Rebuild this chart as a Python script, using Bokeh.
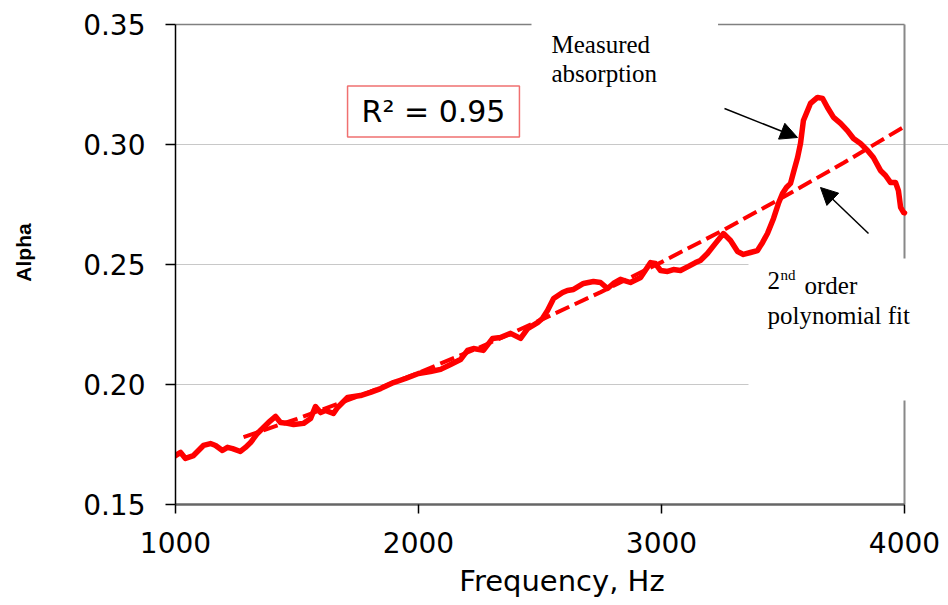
from bokeh.plotting import figure
from bokeh.models import (Range1d, FixedTicker, PrintfTickFormatter, Label,
                          Arrow, NormalHead)
from bokeh.embed import file_html
from bokeh.resources import INLINE

# Measured sound absorption coefficient versus frequency
freq_hz = [
    1000, 1021, 1041, 1074, 1115, 1144, 1165, 1193, 1214, 1235, 1267, 1288,
    1309, 1337, 1362, 1383, 1412, 1432, 1461, 1486, 1527, 1556, 1576, 1597,
    1617, 1650, 1667, 1708, 1761, 1802, 1844, 1897, 1947, 2000, 2049, 2091,
    2132, 2173, 2202, 2226, 2267, 2305, 2337, 2379, 2420, 2449, 2490, 2510,
    2531, 2556, 2593, 2613, 2638, 2679, 2720, 2749, 2778, 2802, 2831, 2872,
    2914, 2955, 2975, 2996, 3025, 3049, 3078, 3111, 3140, 3160, 3189, 3222,
    3255, 3284, 3313, 3337, 3366, 3395, 3416, 3436, 3461, 3481, 3498, 3514,
    3531, 3543, 3560, 3572, 3584, 3613, 3642, 3663, 3683, 3708, 3737, 3765,
    3790, 3819, 3848, 3872, 3901, 3922, 3942, 3963, 3975, 3984, 3996, 4000,
]
alpha_measured = [
    0.1704, 0.1717, 0.1692, 0.1704, 0.1746, 0.1754, 0.1746, 0.1725, 0.1738,
    0.1733, 0.1721, 0.1738, 0.1758, 0.1796, 0.1821, 0.1842, 0.1867, 0.1842,
    0.1838, 0.1833, 0.1838, 0.1858, 0.1908, 0.1883, 0.1892, 0.1879, 0.1904,
    0.1946, 0.1954, 0.1967, 0.1983, 0.2008, 0.2025, 0.2046, 0.2054, 0.2063,
    0.2083, 0.2104, 0.2142, 0.2150, 0.2142, 0.2192, 0.2196, 0.2213, 0.2192,
    0.2233, 0.2258, 0.2275, 0.2308, 0.2358, 0.2383, 0.2392, 0.2396, 0.2421,
    0.2429, 0.2425, 0.2400, 0.2421, 0.2438, 0.2425, 0.2446, 0.2508, 0.2504,
    0.2475, 0.2471, 0.2479, 0.2475, 0.2492, 0.2508, 0.2517, 0.2546, 0.2588,
    0.2629, 0.2600, 0.2554, 0.2542, 0.2550, 0.2558, 0.2592, 0.2629, 0.2692,
    0.2754, 0.2796, 0.2821, 0.2838, 0.2883, 0.2946, 0.3004, 0.3100, 0.3171,
    0.3196, 0.3192, 0.3154, 0.3113, 0.3088, 0.3058, 0.3025, 0.3004, 0.2975,
    0.2946, 0.2892, 0.2871, 0.2842, 0.2842, 0.2808, 0.2738, 0.2717, 0.2715,
]

# Second-order polynomial fit of the measured data
fit_freq_hz = [1280, 1500, 1750, 2000, 2250, 2500, 2750, 3000, 3250, 3500,
               3750, 4000]
alpha_fit = [0.1781, 0.1857, 0.1950, 0.2049, 0.2154, 0.2267, 0.2385, 0.2510,
             0.2641, 0.2780, 0.2924, 0.3075]
r_squared = 0.95

x_ticks = [1000, 2000, 3000, 4000]
y_ticks = [0.15, 0.20, 0.25, 0.30, 0.35]
x_lo, x_hi = x_ticks[0], x_ticks[-1]
y_lo, y_hi = y_ticks[0], y_ticks[-1]

SANS = "DejaVu Sans"
SERIF = "Liberation Serif"

# The drawing area reaches the right and top edges of the page so that the
# call-out boxes may overlap the chart border; axes and grid are bounded to
# the real data box.
HZ_PER_PX = (x_hi - x_lo) / 729
ALPHA_PER_PX = (y_hi - y_lo) / 480
p = figure(width=948, height=605,
           x_range=Range1d(x_lo, x_hi + 44 * HZ_PER_PX),
           y_range=Range1d(y_lo, y_hi + 24 * ALPHA_PER_PX),
           output_backend="svg", toolbar_location=None,
           min_border_left=175, min_border_right=0,
           min_border_top=0, min_border_bottom=101)

p.background_fill_color = "white"
p.border_fill_color = "white"
p.outline_line_color = None

# grid
p.xgrid.visible = False
p.ygrid.ticker = FixedTicker(ticks=y_ticks[1:-1])
p.ygrid.bounds = (x_lo, x_hi)
p.ygrid.grid_line_color = "#c8c8c8"
p.ygrid.grid_line_width = 1

# y axis
p.yaxis.bounds = (y_lo, y_hi)
p.yaxis.ticker = FixedTicker(ticks=y_ticks)
p.yaxis.formatter = PrintfTickFormatter(format="%.2f")
p.yaxis.major_label_text_font = SANS
p.yaxis.major_label_text_font_size = "28px"
p.yaxis.major_label_text_color = "black"
p.yaxis.major_label_standoff = 20
p.yaxis.major_tick_out = 10
p.yaxis.major_tick_in = 0
p.yaxis.minor_tick_line_color = None
p.yaxis.axis_line_color = "black"
p.yaxis.axis_line_width = 1.5
p.yaxis.major_tick_line_color = "black"
p.yaxis.major_tick_line_width = 1.5
p.yaxis.axis_label = "Alpha"
p.yaxis.axis_label_text_font = "Liberation Sans"
p.yaxis.axis_label_text_font_style = "bold"
p.yaxis.axis_label_text_font_size = "21px"
p.yaxis.axis_label_text_color = "black"
p.yaxis.axis_label_standoff = 45

# x axis
p.xaxis.bounds = (x_lo, x_hi)
p.xaxis.ticker = FixedTicker(ticks=x_ticks)
p.xaxis.formatter = PrintfTickFormatter(format="%d")
p.xaxis.major_label_text_font = SANS
p.xaxis.major_label_text_font_size = "28px"
p.xaxis.major_label_text_color = "black"
p.xaxis.major_label_standoff = 18
p.xaxis.major_tick_out = 9
p.xaxis.major_tick_in = 0
p.xaxis.minor_tick_line_color = None
p.xaxis.axis_line_color = "#666666"
p.xaxis.axis_line_width = 2.5
p.xaxis.major_tick_line_color = "black"
p.xaxis.major_tick_line_width = 1.5
p.xaxis.axis_label = "Frequency, Hz"
p.xaxis.axis_label_text_font = SANS
p.xaxis.axis_label_text_font_style = "normal"
p.xaxis.axis_label_text_font_size = "29px"
p.xaxis.axis_label_text_color = "black"
p.xaxis.axis_label_standoff = 8

# top and right border of the chart box
p.segment(x0=[x_lo], y0=[y_hi], x1=[x_hi], y1=[y_hi],
          line_color="#808080", line_width=1.5)
p.segment(x0=[x_hi], y0=[y_lo], x1=[x_hi], y1=[y_hi],
          line_color="#888888", line_width=2)

# data
p.line(fit_freq_hz, alpha_fit, line_color="#ff0000", line_width=4,
       line_dash="15 6")
p.line(freq_hz, alpha_measured, line_color="#ff0000", line_width=5.5,
       line_join="round", line_cap="round")


def hz(px):
    """Horizontal page position (px) to frequency."""
    return x_lo + (px - 175) * HZ_PER_PX


def al(py):
    """Vertical page position (px) to absorption coefficient."""
    return y_hi - (py - 24) * ALPHA_PER_PX


# goodness of fit box
p.add_layout(Label(x=hz(433), y=al(111), text=f"R\u00b2 = {r_squared:.2f}",
                   text_align="center", text_baseline="middle",
                   text_font=SANS, text_font_size="30px", text_color="black",
                   background_fill_color="white",
                   border_line_color="#f07070", border_line_width=1.5,
                   padding=dict(left=14, right=14, top=8, bottom=8)))

# call-outs (white boxes hide the border and grid behind them)
p.add_layout(Label(x=hz(531), y=al(20), text="Measured\nabsorption",
                   text_align="left", text_baseline="top",
                   text_font=SERIF, text_font_size="25px",
                   text_line_height=1.1, text_color="black",
                   background_fill_color="white",
                   padding=dict(left=20, right=61, top=10, bottom=22)))
p.add_layout(Label(x=hz(748), y=al(258), text="polynomial fit",
                   text_align="left", text_baseline="top",
                   text_font=SERIF, text_font_size="25px", text_color="black",
                   background_fill_color="white",
                   padding=dict(left=19, right=40, top=43, bottom=72)))
p.add_layout(Label(x=hz(767), y=al(271), text="2", text_align="left",
                   text_baseline="top", text_font=SERIF,
                   text_font_size="25px", text_color="black"))
p.add_layout(Label(x=hz(780), y=al(266), text="nd", text_align="left",
                   text_baseline="top", text_font=SERIF,
                   text_font_size="15px", text_color="black"))
p.add_layout(Label(x=hz(804), y=al(271), text="order", text_align="left",
                   text_baseline="top", text_font=SERIF,
                   text_font_size="25px", text_color="black"))

p.add_layout(Arrow(end=NormalHead(size=17, fill_color="black",
                                  line_color="black"),
                   x_start=hz(724), y_start=al(108),
                   x_end=hz(797), y_end=al(137),
                   line_color="black", line_width=1.5))
p.add_layout(Arrow(end=NormalHead(size=17, fill_color="black",
                                  line_color="black"),
                   x_start=hz(868), y_start=al(233),
                   x_end=hz(820), y_end=al(187),
                   line_color="black", line_width=1.5))

open("out.html", "w").write(file_html(p, INLINE))
